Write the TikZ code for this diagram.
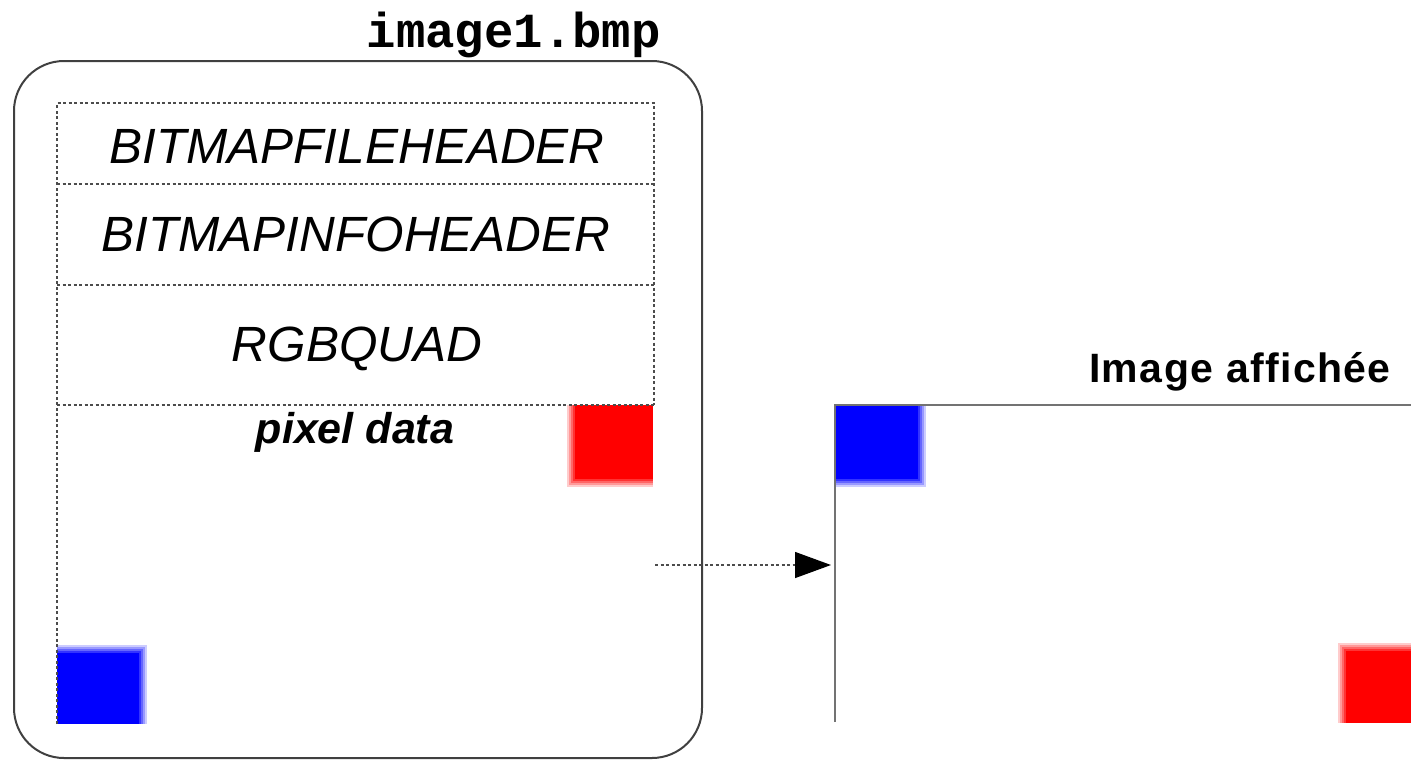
\documentclass[tikz,border=0pt]{standalone}
\usepackage{fontspec}
\setmainfont{Liberation Sans}
\newfontfamily\monofnt{Liberation Mono}
\usetikzlibrary{arrows.meta}
\tikzset{
  frame/.style={draw=black!75, line width=2pt, rounded corners=50pt},
  dotline/.style={draw=black!70, line width=1.3pt, dash pattern=on 3pt off 2.5pt},
  secttext/.style={anchor=base, inner sep=0pt, font=\fontsize{49.5}{55}\selectfont\itshape},
  screen/.style={draw=black!55, line width=1.5pt},
  link/.style={dotline, -{Triangle[length=36pt,width=26pt,black]}},
}
\begin{document}
\begin{tikzpicture}[x=1pt,y=-1pt]
\useasboundingbox (0,0) rectangle (1411,761);
% red square top-right of pixel data (blur left, bottom)
\foreach \i in {0,...,5}{
  \pgfmathsetmacro\c{\i*20}
  \fill[red!\c!white] (565+2*\i,405) rectangle (653,489-2*\i);
}
% blue square bottom-left of pixel data (blur top, right)
\foreach \i in {0,...,5}{
  \pgfmathsetmacro\c{\i*20}
  \fill[blue!\c!white] (57,643+2*\i) rectangle (149-2*\i,724);
}
% blue square top-left of displayed image (blur right, bottom)
\foreach \i in {0,...,5}{
  \pgfmathsetmacro\c{\i*20}
  \fill[blue!\c!white] (836,406) rectangle (928-2*\i,489-2*\i);
}
% red square bottom-right of displayed image (blur left, top)
\foreach \i in {0,...,5}{
  \pgfmathsetmacro\c{\i*20}
  \fill[red!\c!white] (1336+2*\i,641+2*\i) rectangle (1411,723);
}
% file frame
\draw[frame] (14,61) rectangle (702,758);
\node[anchor=base east, inner sep=0pt, font=\monofnt\bfseries\fontsize{49}{55}\selectfont] (title) at (661,47) {image1.bmp};
% sections
\draw[dotline] (57,724) -- (57,103) -- (654,103) -- (654,405);
\draw[dotline] (57,184) -- (654,184);
\draw[dotline] (57,285) -- (654,285);
\draw[dotline] (57,405) -- (654,405);
\node[secttext] (bfh) at (357,163) {BITMAPFILEHEADER};
\node[secttext] (bih) at (356,251) {BITMAPINFOHEADER};
\node[secttext] (rgb) at (357,361) {RGBQUAD};
\node[anchor=base, inner sep=0pt, font=\fontsize{43}{48}\selectfont\bfseries\itshape] (pix) at (355,443) {pixel data};
% displayed image
\draw[screen] (835,722) -- (835,405) -- (1411,405);
\node[anchor=base, inner sep=0pt, font=\fontsize{41}{46}\selectfont\bfseries\addfontfeatures{LetterSpace=3.4}] (disp) at (1240,382) {Image affich\'ee};
% arrow
\coordinate (src) at (655,565);
\coordinate (dst) at (831,565);
\draw[link] (src) -- (dst);
\end{tikzpicture}
\end{document}
